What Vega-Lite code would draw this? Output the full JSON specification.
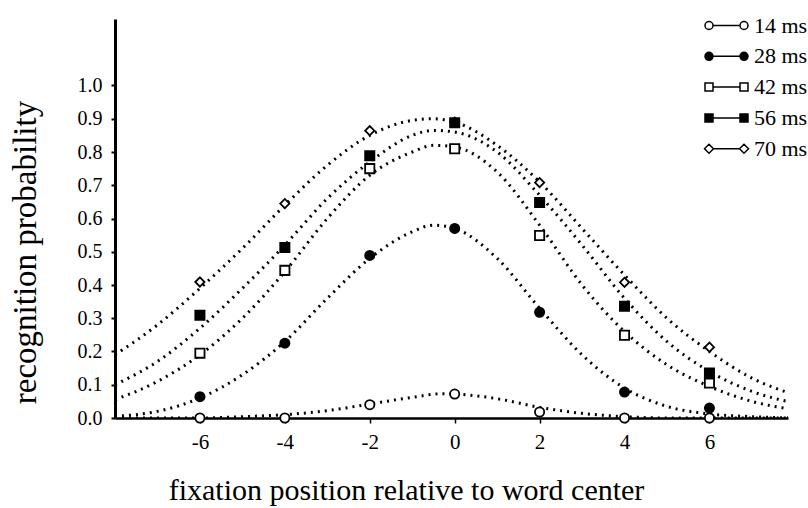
{
  "$schema": "https://vega.github.io/schema/vega-lite/v6.json",
  "width": 673,
  "height": 399,
  "autosize": {"type": "none"},
  "padding": {"left": 115, "top": 19, "right": 20, "bottom": 90},
  "background": "white",
  "config": {"view": {"stroke": null}, "font": "Liberation Serif"},
  "datasets": {
    "points": [
      {"series": "70 ms", "x": 0, "y": 0.89},
      {"series": "14 ms", "x": -6, "y": 0.0},
      {"series": "14 ms", "x": -4, "y": 0.0},
      {"series": "14 ms", "x": -2, "y": 0.04},
      {"series": "14 ms", "x": 0, "y": 0.072},
      {"series": "14 ms", "x": 2, "y": 0.018},
      {"series": "14 ms", "x": 4, "y": 0.0},
      {"series": "14 ms", "x": 6, "y": 0.0},
      {"series": "28 ms", "x": -6, "y": 0.064},
      {"series": "28 ms", "x": -4, "y": 0.225},
      {"series": "28 ms", "x": -2, "y": 0.489},
      {"series": "28 ms", "x": 0, "y": 0.57},
      {"series": "28 ms", "x": 2, "y": 0.318},
      {"series": "28 ms", "x": 4, "y": 0.078},
      {"series": "28 ms", "x": 6, "y": 0.03},
      {"series": "42 ms", "x": -6, "y": 0.195},
      {"series": "42 ms", "x": -4, "y": 0.444},
      {"series": "42 ms", "x": -2, "y": 0.75},
      {"series": "42 ms", "x": 0, "y": 0.81},
      {"series": "42 ms", "x": 2, "y": 0.549},
      {"series": "42 ms", "x": 4, "y": 0.249},
      {"series": "42 ms", "x": 6, "y": 0.105},
      {"series": "70 ms", "x": -6, "y": 0.409},
      {"series": "70 ms", "x": -4, "y": 0.645},
      {"series": "70 ms", "x": -2, "y": 0.864},
      {"series": "70 ms", "x": 2, "y": 0.708},
      {"series": "70 ms", "x": 4, "y": 0.408},
      {"series": "70 ms", "x": 6, "y": 0.213},
      {"series": "56 ms", "x": -6, "y": 0.309},
      {"series": "56 ms", "x": -4, "y": 0.513},
      {"series": "56 ms", "x": -2, "y": 0.789},
      {"series": "56 ms", "x": 0, "y": 0.888},
      {"series": "56 ms", "x": 2, "y": 0.648},
      {"series": "56 ms", "x": 4, "y": 0.336},
      {"series": "56 ms", "x": 6, "y": 0.135}
    ],
    "curves": [
      {"series": "14 ms", "x": -8, "y": 0.0},
      {"series": "14 ms", "x": -6, "y": 0.0},
      {"series": "14 ms", "x": -5, "y": 0.004},
      {"series": "14 ms", "x": -4, "y": 0.01},
      {"series": "14 ms", "x": -3, "y": 0.022},
      {"series": "14 ms", "x": -2, "y": 0.042},
      {"series": "14 ms", "x": -1, "y": 0.062},
      {"series": "14 ms", "x": -0.3, "y": 0.073},
      {"series": "14 ms", "x": 0, "y": 0.072},
      {"series": "14 ms", "x": 1, "y": 0.058},
      {"series": "14 ms", "x": 2, "y": 0.032},
      {"series": "14 ms", "x": 3, "y": 0.014},
      {"series": "14 ms", "x": 4, "y": 0.004},
      {"series": "14 ms", "x": 5, "y": 0.0},
      {"series": "14 ms", "x": 8, "y": 0.0},
      {"series": "28 ms", "x": -8, "y": 0.005},
      {"series": "28 ms", "x": -7, "y": 0.02},
      {"series": "28 ms", "x": -6, "y": 0.06},
      {"series": "28 ms", "x": -5, "y": 0.13},
      {"series": "28 ms", "x": -4, "y": 0.23},
      {"series": "28 ms", "x": -3, "y": 0.36},
      {"series": "28 ms", "x": -2, "y": 0.48},
      {"series": "28 ms", "x": -1, "y": 0.56},
      {"series": "28 ms", "x": -0.5, "y": 0.58},
      {"series": "28 ms", "x": 0, "y": 0.57},
      {"series": "28 ms", "x": 1, "y": 0.48},
      {"series": "28 ms", "x": 2, "y": 0.33},
      {"series": "28 ms", "x": 3, "y": 0.19},
      {"series": "28 ms", "x": 4, "y": 0.09},
      {"series": "28 ms", "x": 5, "y": 0.035},
      {"series": "28 ms", "x": 6, "y": 0.012},
      {"series": "28 ms", "x": 7, "y": 0.004},
      {"series": "28 ms", "x": 8, "y": 0.0},
      {"series": "42 ms", "x": -8, "y": 0.055},
      {"series": "42 ms", "x": -7, "y": 0.11},
      {"series": "42 ms", "x": -6, "y": 0.19},
      {"series": "42 ms", "x": -5, "y": 0.3},
      {"series": "42 ms", "x": -4, "y": 0.44},
      {"series": "42 ms", "x": -3, "y": 0.6},
      {"series": "42 ms", "x": -2, "y": 0.73},
      {"series": "42 ms", "x": -1, "y": 0.8},
      {"series": "42 ms", "x": -0.5, "y": 0.82},
      {"series": "42 ms", "x": 0, "y": 0.815},
      {"series": "42 ms", "x": 1, "y": 0.74},
      {"series": "42 ms", "x": 2, "y": 0.58},
      {"series": "42 ms", "x": 3, "y": 0.4},
      {"series": "42 ms", "x": 4, "y": 0.26},
      {"series": "42 ms", "x": 5, "y": 0.16},
      {"series": "42 ms", "x": 6, "y": 0.095},
      {"series": "42 ms", "x": 7, "y": 0.05},
      {"series": "42 ms", "x": 8, "y": 0.025},
      {"series": "56 ms", "x": -8, "y": 0.1},
      {"series": "56 ms", "x": -7, "y": 0.17},
      {"series": "56 ms", "x": -6, "y": 0.27},
      {"series": "56 ms", "x": -5, "y": 0.39},
      {"series": "56 ms", "x": -4, "y": 0.52},
      {"series": "56 ms", "x": -3, "y": 0.66},
      {"series": "56 ms", "x": -2, "y": 0.77},
      {"series": "56 ms", "x": -1, "y": 0.85},
      {"series": "56 ms", "x": -0.5, "y": 0.865},
      {"series": "56 ms", "x": 0, "y": 0.86},
      {"series": "56 ms", "x": 1, "y": 0.8},
      {"series": "56 ms", "x": 2, "y": 0.67},
      {"series": "56 ms", "x": 3, "y": 0.52},
      {"series": "56 ms", "x": 4, "y": 0.36},
      {"series": "56 ms", "x": 5, "y": 0.23},
      {"series": "56 ms", "x": 6, "y": 0.14},
      {"series": "56 ms", "x": 7, "y": 0.08},
      {"series": "56 ms", "x": 8, "y": 0.045},
      {"series": "70 ms", "x": -8, "y": 0.19},
      {"series": "70 ms", "x": -7, "y": 0.28},
      {"series": "70 ms", "x": -6, "y": 0.39},
      {"series": "70 ms", "x": -5, "y": 0.51},
      {"series": "70 ms", "x": -4, "y": 0.64},
      {"series": "70 ms", "x": -3, "y": 0.76},
      {"series": "70 ms", "x": -2, "y": 0.85},
      {"series": "70 ms", "x": -1, "y": 0.895},
      {"series": "70 ms", "x": -0.5, "y": 0.9},
      {"series": "70 ms", "x": 0, "y": 0.89},
      {"series": "70 ms", "x": 1, "y": 0.82},
      {"series": "70 ms", "x": 2, "y": 0.71},
      {"series": "70 ms", "x": 3, "y": 0.57},
      {"series": "70 ms", "x": 4, "y": 0.43},
      {"series": "70 ms", "x": 5, "y": 0.3},
      {"series": "70 ms", "x": 6, "y": 0.2},
      {"series": "70 ms", "x": 7, "y": 0.12},
      {"series": "70 ms", "x": 8, "y": 0.07}
    ]
  },
  "encoding": {
    "x": {
      "field": "x",
      "type": "quantitative",
      "scale": {"domain": [-8, 7.85], "nice": false, "zero": false},
      "axis": {
        "values": [-6, -4, -2, 0, 2, 4, 6],
        "labelExpr": "'' + datum.value",
        "grid": false,
        "title": "fixation position relative to word center",
        "titleFont": "Liberation Serif",
        "titleFontSize": 30,
        "titleFontWeight": "normal",
        "titleColor": "black",
        "titleX": 291,
        "titleY": 72,
        "titleAlign": "center",
        "titleBaseline": "middle",
        "labelFont": "Liberation Serif",
        "labelFontSize": 21,
        "labelColor": "black",
        "labelPadding": 8,
        "domainColor": "black",
        "domainWidth": 2.5,
        "tickColor": "black",
        "tickWidth": 1.5,
        "tickSize": 5
      }
    },
    "y": {
      "field": "y",
      "type": "quantitative",
      "scale": {"domain": [0, 1.2], "nice": false},
      "axis": {
        "values": [0, 0.1, 0.2, 0.3, 0.4, 0.5, 0.6, 0.7, 0.8, 0.9, 1.0],
        "format": ".1f",
        "grid": false,
        "title": "recognition probability",
        "titleFont": "Liberation Serif",
        "titleFontSize": 33,
        "titleFontWeight": "normal",
        "titleColor": "black",
        "titleAngle": -90,
        "titleX": -90,
        "titleY": 233,
        "titleAlign": "center",
        "titleBaseline": "middle",
        "labelFont": "Liberation Serif",
        "labelFontSize": 20,
        "labelColor": "black",
        "labelPadding": 9,
        "domainColor": "black",
        "domainWidth": 3,
        "tickColor": "black",
        "tickWidth": 2,
        "tickSize": 4
      }
    }
  },
  "layer": [
    {
      "data": {"name": "curves"},
      "mark": {
        "type": "line",
        "interpolate": "monotone",
        "stroke": "black",
        "strokeWidth": 3,
        "strokeDash": [2, 5],
        "strokeCap": "butt",
        "clip": true
      },
      "encoding": {"detail": {"field": "series", "type": "nominal"}}
    },
    {
      "data": {"name": "points"},
      "mark": {
        "type": "point",
        "filled": true,
        "stroke": "black",
        "strokeWidth": 1.8,
        "size": 85,
        "opacity": 1
      },
      "encoding": {
        "shape": {
          "field": "series",
          "type": "nominal",
          "scale": {
            "domain": ["14 ms", "28 ms", "42 ms", "56 ms", "70 ms"],
            "range": ["circle", "circle", "square", "square", "diamond"]
          },
          "legend": null
        },
        "fill": {
          "field": "series",
          "type": "nominal",
          "scale": {
            "domain": ["14 ms", "28 ms", "42 ms", "56 ms", "70 ms"],
            "range": ["white", "black", "white", "black", "white"]
          },
          "legend": null
        }
      }
    },
    {
      "data": {"name": "points"},
      "transform": [{"filter": "datum.x > 100"}],
      "mark": {
        "type": "point",
        "filled": true,
        "stroke": "black",
        "strokeWidth": 1.5,
        "size": 4,
        "opacity": 1
      },
      "encoding": {
        "shape": {
          "field": "series",
          "type": "nominal",
          "scale": {
            "domain": ["14 ms", "28 ms", "42 ms", "56 ms", "70 ms"],
            "range": [
              "M4,0A4,4,0,1,1,-4,0A4,4,0,1,1,4,0ZM4,0L31,0M39,0A4,4,0,1,1,31,0A4,4,0,1,1,39,0Z",
              "M4,0A4,4,0,1,1,-4,0A4,4,0,1,1,4,0ZM4,0L31,0M39,0A4,4,0,1,1,31,0A4,4,0,1,1,39,0Z",
              "M-4,-4L4,-4L4,4L-4,4ZM4,0L31,0M31,-4L39,-4L39,4L31,4Z",
              "M-4,-4L4,-4L4,4L-4,4ZM4,0L31,0M31,-4L39,-4L39,4L31,4Z",
              "M0,-4.5L4.5,0L0,4.5L-4.5,0ZM4.5,0L30.5,0M35,-4.5L39.5,0L35,4.5L30.5,0Z"
            ]
          },
          "legend": {
            "orient": "none",
            "legendX": 583,
            "legendY": -4.5,
            "title": null,
            "padding": 0,
            "symbolSize": 4,
            "symbolStrokeWidth": 1.5,
            "labelFont": "Liberation Serif",
            "labelFontSize": 22,
            "labelColor": "black",
            "labelOffset": 34,
            "rowPadding": 8.8
          }
        },
        "fill": {
          "field": "series",
          "type": "nominal",
          "scale": {
            "domain": ["14 ms", "28 ms", "42 ms", "56 ms", "70 ms"],
            "range": ["white", "black", "white", "black", "white"]
          },
          "legend": {
            "orient": "none",
            "legendX": 583,
            "legendY": -4.5,
            "title": null,
            "padding": 0,
            "symbolSize": 4,
            "symbolStrokeWidth": 1.5,
            "labelFont": "Liberation Serif",
            "labelFontSize": 22,
            "labelColor": "black",
            "labelOffset": 34,
            "rowPadding": 8.8
          }
        }
      }
    }
  ],
  "resolve": {
    "scale": {"shape": "independent", "fill": "independent"},
    "legend": {"shape": "independent", "fill": "independent"}
  }
}
